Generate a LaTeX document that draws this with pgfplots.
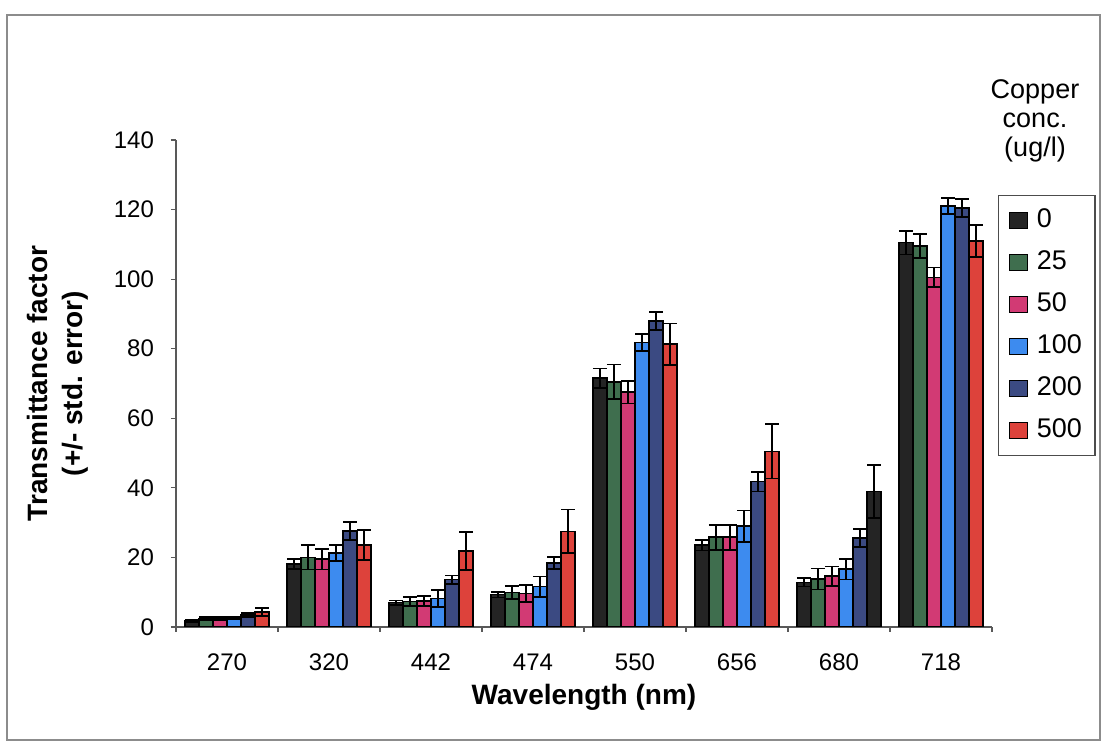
\documentclass[border=0pt]{standalone}
\usepackage{pgfplots}
\usepackage{pgfplotstable}
\pgfplotsset{compat=1.18}
\usepackage{fontspec}
\setmainfont{Liberation Sans}
\definecolor{c0}{HTML}{242424}
\definecolor{c25}{HTML}{3F6E4E}
\definecolor{c50}{HTML}{D23A74}
\definecolor{c100}{HTML}{3D8BEF}
\definecolor{c200}{HTML}{3B4A82}
\definecolor{c500}{HTML}{DD423B}
% columns: category index, value and std. error for each copper concentration
\pgfplotstableread{
i   v0    e0   v25   e25  v50   e50  v100  e100  v200  e200
0   1.7   0.3  2.4   0.4  2.4   0.4  2.5   0.4   3.5   0.6
1   18.1  1.5  20.0  3.5  19.5  3.0  21.3  2.3   27.6  2.6
2   7.0   0.6  7.3   1.3  7.5   1.4  8.2   2.5   13.6  1.2
3   9.3   0.8  9.9   1.9  9.6   2.4  11.6  2.9   18.4  1.7
4   71.5  2.8  70.5  5.0  67.5  3.3  81.8  2.4   88.0  2.6
5   23.5  1.5  25.8  3.6  25.8  3.6  29.0  4.5   41.8  2.8
6   12.8  1.2  13.8  3.0  14.6  2.8  16.6  2.9   25.6  2.6
7   110.5 3.4  109.5 3.5  100.5 2.8  121.0 2.3   120.5 2.6
}\datatab
\pgfplotstableread{
i   v500  e500
0   4.3   1.2
1   23.5  4.3
2   21.8  5.5
3   27.5  6.3
4   81.3  6.0
5   50.5  7.8
7   111.0 4.6
}\datafive
\pgfplotstableread{
i   v500  e500
6   39.0  7.6
}\datafivedark
\pgfplotsset{
  mybar/.style={ybar, bar width=7.04pt, bar shift=0pt, draw=black, line width=0.8pt,
    legend image code/.code={\path (0pt,0pt) (14.5pt,0pt);\draw[##1, draw=black, line width=0.6pt] (2pt,-4pt) rectangle (11pt,4pt);},
    error bars/y dir=both, error bars/y explicit,
    error bars/error bar style={black, line width=0.8pt},
    error bars/error mark options={rotate=90, black, mark size=3.5pt, line width=0.8pt}},
}
\begin{document}
\begin{tikzpicture}
\useasboundingbox (-88pt,-58pt) rectangle (467pt,313.5pt);
\draw[line width=1pt, black!45] (-84.5pt,-56.5pt) rectangle (462pt,306pt);
\begin{axis}[
  at={(0,0)}, anchor=south west,
  width=408pt, height=243.5pt, scale only axis,
  xmin=-0.5, xmax=7.5, ymin=0, ymax=140,
  axis x line*=bottom, axis y line*=left,
  axis line style={-, black!65, line width=0.8pt},
  xtick={0,...,7},
  xticklabels={270,320,442,474,550,656,680,718},
  major x tick style={draw=none},
  minor xtick={-0.5,0.5,...,7.5},
  ytick={0,20,...,140},
  tick align=outside,
  major tick length=2.5pt, minor tick length=2.5pt,
  tick style={black!65, line width=0.6pt},
  ticklabel style={font=\fontsize{12}{14}\selectfont},
  xticklabel style={yshift=-7.5pt},
  yticklabel style={xshift=-5pt},
  /pgf/number format/assume math mode=true,
  xlabel={Wavelength (nm)},
  ylabel={Transmittance factor\\(+/- std. error)},
  label style={font=\bfseries\fontsize{14}{17.5}\selectfont, align=center},
  ylabel style={at={(axis description cs:-0.145,0.5)}, anchor=center},
  xlabel style={at={(axis description cs:0.5,-0.145)}, anchor=center},
  legend style={at={(axis description cs:1.007,0.887)}, anchor=north west,
    draw=black!70, line width=0.6pt, font=\fontsize{13.5}{15}\selectfont,
    row sep=7pt, inner xsep=3pt, inner ysep=5.5pt,
    nodes={text height=9.5pt, text depth=2.5pt, inner sep=1pt}},
  legend cell align=left,
]
\addplot[mybar, fill=c0]   table[x expr=\thisrow{i}-0.345, y=v0,   y error=e0]   {\datatab};
\addplot[mybar, fill=c25]  table[x expr=\thisrow{i}-0.207, y=v25,  y error=e25]  {\datatab};
\addplot[mybar, fill=c50]  table[x expr=\thisrow{i}-0.069, y=v50,  y error=e50]  {\datatab};
\addplot[mybar, fill=c100] table[x expr=\thisrow{i}+0.069, y=v100, y error=e100] {\datatab};
\addplot[mybar, fill=c200] table[x expr=\thisrow{i}+0.207, y=v200, y error=e200] {\datatab};
\addplot[mybar, fill=c500] table[x expr=\thisrow{i}+0.345, y=v500, y error=e500] {\datafive};
\addplot[mybar, fill=c0, forget plot] table[x expr=\thisrow{i}+0.345, y=v500, y error=e500] {\datafivedark};
\legend{0,25,50,100\hspace*{2.5pt},200\hspace*{2.5pt},500\hspace*{2.5pt}}
\end{axis}
\node[align=center, font=\fontsize{13.5}{14.5}\selectfont] at (429.5pt,253pt) {Copper\\conc.\\(ug/l)};
\end{tikzpicture}
\end{document}
